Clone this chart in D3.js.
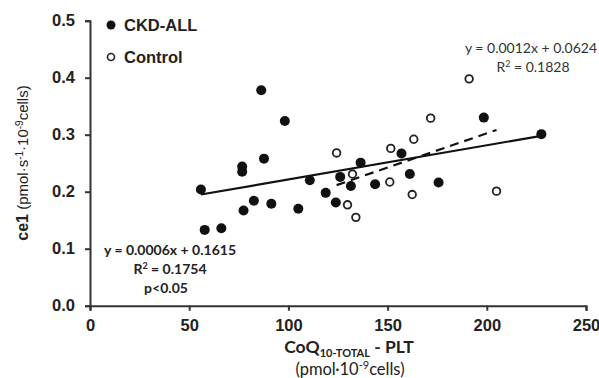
<!DOCTYPE html>
<html>
<head>
<meta charset="utf-8">
<script src="https://cdn.jsdelivr.net/npm/d3@7"></script>
<style>
  body { margin: 0; background: #fff; }
  svg { display: block; }
  .tick text { font-family: "Liberation Sans", Arial, sans-serif; font-weight: bold; font-size: 16.5px; fill: #222; }
</style>
</head>
<body>
<svg id="chart" width="599" height="378"></svg>
<script>
// CKD-ALL patients (filled)
const ckdX = [55.9, 57.8, 66.2, 76.7, 76.7, 77.4, 82.6, 86.3, 87.7, 91.4, 98.2, 105, 110.8, 118.8, 123.9, 126.1, 131.5, 136.4, 143.7, 157.0, 161.2, 175.7, 198.5, 227.5];
const ckdY = [0.204, 0.133, 0.136, 0.244, 0.235, 0.167, 0.184, 0.378, 0.258, 0.179, 0.324, 0.170, 0.220, 0.198, 0.181, 0.226, 0.210, 0.251, 0.213, 0.267, 0.231, 0.216, 0.330, 0.301];
// Controls (open)
const ctrlX = [124.3, 129.8, 132.3, 134.0, 151.1, 151.6, 162.4, 163.2, 171.7, 191.1, 204.9];
const ctrlY = [0.268, 0.177, 0.231, 0.155, 0.217, 0.276, 0.195, 0.292, 0.329, 0.398, 0.201];
// trend lines as printed on the chart [slope, intercept]
const ckdFit = [0.0006, 0.1615];
const ctrlFit = [0.0012, 0.0624];
const xTicks = [0, 50, 100, 150, 200, 250];
const yTicks = [0, 0.1, 0.2, 0.3, 0.4, 0.5];

const svg = d3.select("#chart");
const x = d3.scaleLinear().domain([0, 250]).range([90, 586]);
const y = d3.scaleLinear().domain([0, 0.5]).range([305.7, 20.7]);

const ckd = ckdX.map((v, i) => ({ x: v, y: ckdY[i] }));
const ctrl = ctrlX.map((v, i) => ({ x: v, y: ctrlY[i] }));

// axes
const xAxis = svg.append("g").attr("transform", `translate(0,${y(0)})`)
  .call(d3.axisBottom(x).tickValues(xTicks).tickSize(5).tickPadding(9).tickFormat(d3.format("d")));
const yAxis = svg.append("g").attr("transform", `translate(${x(0)},0)`)
  .call(d3.axisLeft(y).tickValues(yTicks).tickSize(5).tickPadding(10).tickFormat(d3.format(".1f")));
[xAxis, yAxis].forEach(g => {
  g.select(".domain").attr("stroke", "#333").attr("stroke-width", 2);
  g.selectAll(".tick line").attr("stroke", "#333").attr("stroke-width", 2);
});

// trend lines
const lineFor = (fit, xs) => [d3.min(xs), d3.max(xs)].map(v => [x(v), y(fit[0] * v + fit[1])]);
svg.append("path").attr("d", d3.line()(lineFor(ckdFit, ckdX)))
  .attr("stroke", "#111").attr("stroke-width", 2.2).attr("fill", "none");
svg.append("path").attr("d", d3.line()(lineFor(ctrlFit, ctrlX)))
  .attr("stroke", "#111").attr("stroke-width", 2.2).attr("stroke-dasharray", "9,6").attr("fill", "none");

// points
svg.append("g").selectAll("circle").data(ckd).join("circle")
  .attr("cx", d => x(d.x)).attr("cy", d => y(d.y)).attr("r", 5).attr("fill", "#111");
svg.append("g").selectAll("circle").data(ctrl).join("circle")
  .attr("cx", d => x(d.x)).attr("cy", d => y(d.y)).attr("r", 3.8)
  .attr("fill", "#fff").attr("stroke", "#222").attr("stroke-width", 1.8);

// legend
const legend = svg.append("g").attr("font-family", "Liberation Sans, Arial, sans-serif")
  .attr("font-weight", "bold").attr("font-size", 16.5).attr("fill", "#222");
legend.append("circle").attr("cx", 111).attr("cy", 25).attr("r", 4.5).attr("fill", "#111");
legend.append("text").attr("x", 124).attr("y", 31).text("CKD-ALL");
legend.append("circle").attr("cx", 111).attr("cy", 57).attr("r", 3.5).attr("fill", "#fff").attr("stroke", "#222").attr("stroke-width", 1.6);
legend.append("text").attr("x", 124).attr("y", 63).text("Control");

// equations
const eqFont = "Lato, 'Open Sans', sans-serif";
const eq1 = svg.append("g").attr("font-family", eqFont).attr("font-weight", "bold")
  .attr("font-size", 14).attr("fill", "#222").attr("text-anchor", "middle");
eq1.append("text").attr("x", 170).attr("y", 255).text("y = 0.0006x + 0.1615");
const r1 = eq1.append("text").attr("x", 170).attr("y", 274);
r1.append("tspan").text("R");
r1.append("tspan").attr("dy", -5).attr("font-size", 9).text("2");
r1.append("tspan").attr("dy", 5).text(" = 0.1754");
eq1.append("text").attr("x", 166).attr("y", 293).text("p<0.05");

const eq2 = svg.append("g").attr("font-family", eqFont)
  .attr("font-size", 14).attr("fill", "#333").attr("text-anchor", "middle");
eq2.append("text").attr("x", 531).attr("y", 53).text("y = 0.0012x + 0.0624");
const r2 = eq2.append("text").attr("x", 533).attr("y", 72);
r2.append("tspan").text("R");
r2.append("tspan").attr("dy", -5).attr("font-size", 9).text("2");
r2.append("tspan").attr("dy", 5).text(" = 0.1828");

// axis titles
const xt = svg.append("text").attr("x", 349).attr("y", 353).attr("text-anchor", "middle")
  .attr("font-family", eqFont).attr("font-weight", "bold").attr("font-size", 17.5).attr("fill", "#222");
xt.append("tspan").text("CoQ");
xt.append("tspan").attr("dy", 4).attr("font-size", 11).text("10-TOTAL");
xt.append("tspan").attr("dy", -4).text(" - PLT");
const xt2 = svg.append("text").attr("x", 350).attr("y", 375).attr("text-anchor", "middle")
  .attr("font-family", eqFont).attr("font-size", 16.5).attr("fill", "#222");
xt2.append("tspan").text("(pmol·10");
xt2.append("tspan").attr("dy", -6).attr("font-size", 11).text("-9");
xt2.append("tspan").attr("dy", 6).text("cells)");

const yt = svg.append("text").attr("transform", "translate(28,163) rotate(-90)").attr("text-anchor", "middle")
  .attr("font-family", "Liberation Sans, Arial, sans-serif").attr("font-size", 15).attr("fill", "#222");
yt.append("tspan").attr("font-weight", "bold").attr("font-size", 16).text("ce1");
yt.append("tspan").text(" (pmol·s");
yt.append("tspan").attr("dy", -5).attr("font-size", 10).text("-1");
yt.append("tspan").attr("dy", 5).text("·10");
yt.append("tspan").attr("dy", -5).attr("font-size", 10).text("-9");
yt.append("tspan").attr("dy", 5).text("cells)");
</script>
</body>
</html>
